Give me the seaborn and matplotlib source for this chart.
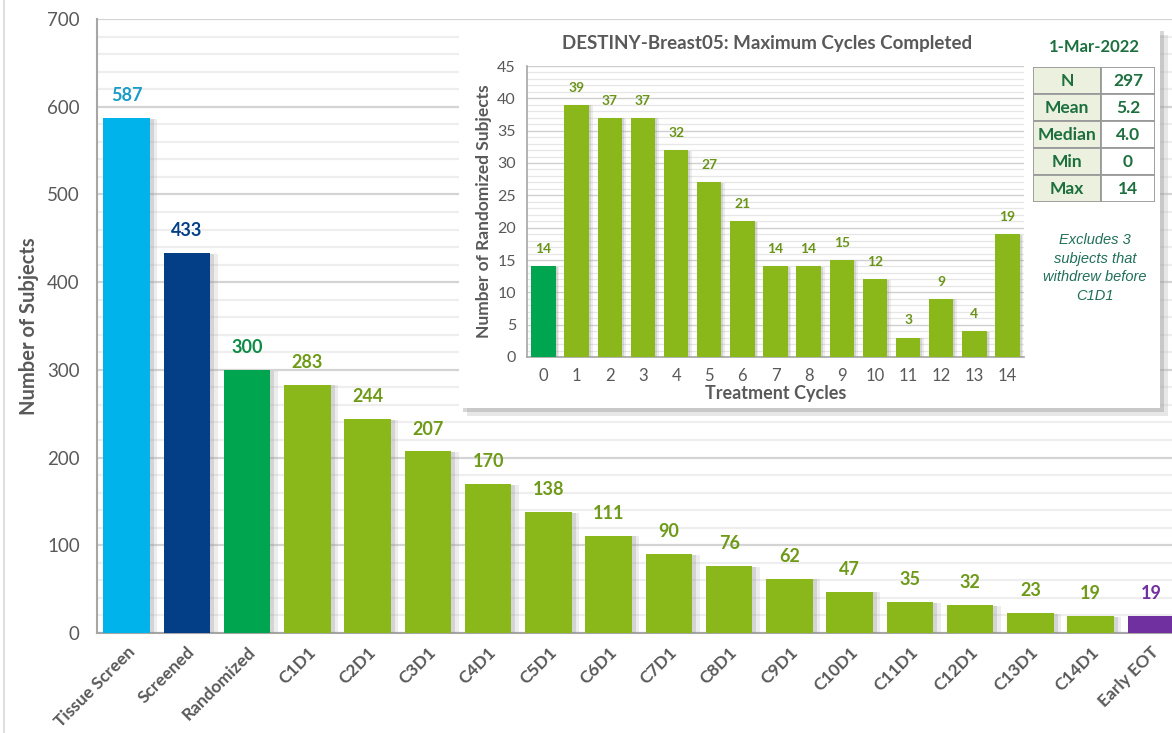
import numpy as np
import matplotlib
matplotlib.use("Agg")
import matplotlib.pyplot as plt
import matplotlib.patheffects as pe
from matplotlib.patches import Rectangle
from matplotlib.lines import Line2D
from matplotlib.ticker import MultipleLocator
import seaborn as sns
import pandas as pd

# ---- enrollment funnel ----
stages = ["Tissue Screen", "Screened", "Randomized",
          "C1D1", "C2D1", "C3D1", "C4D1", "C5D1", "C6D1", "C7D1",
          "C8D1", "C9D1", "C10D1", "C11D1", "C12D1", "C13D1", "C14D1",
          "Early EOT"]
subjects = [587, 433, 300, 283, 244, 207, 170, 138, 111, 90,
            76, 62, 47, 35, 32, 23, 19, 19]

# ---- maximum cycles completed ----
cycles = list(range(15))
cycle_subjects = [14, 39, 37, 37, 32, 27, 21, 14, 14, 15, 12, 3, 9, 4, 19]

# ---- summary statistics ----
data_cut = "1-Mar-2022"
stat_names = ["N", "Mean", "Median", "Min", "Max"]
stat_values = ["297", "5.2", "4.0", "0", "14"]
footnote = "Excludes 3\nsubjects that\nwithdrew before\nC1D1"

CYAN, NAVY, GREEN, LIME, PURPLE = "#00b3ea", "#033f87", "#00a550", "#8ab81a", "#7030a0"
GRAY_TXT = "#595959"
AX_GRAY = "#a6a6a6"

bar_colors = [CYAN, NAVY, GREEN] + [LIME] * 14 + [PURPLE]
label_colors = ["#1a9bc8", NAVY, "#0d8a45"] + ["#6e9a18"] * 14 + [PURPLE]

sns.set_style("white")
plt.rcParams["font.family"] = ["Lato", "DejaVu Sans"]

W, H = 1172, 733
fig = plt.figure(figsize=(W / 100, H / 100), dpi=100)
fig.patch.set_facecolor("white")


def fx(px):
    return px / W


def fy(py):
    return 1 - py / H


def soft_shadow(step):
    # layered offsets give a fading shadow on the right-hand side of a bar
    return [pe.SimplePatchShadow(offset=(step * 2.2, -0.5), shadow_rgbFace="#a0a0a0", alpha=0.18),
            pe.SimplePatchShadow(offset=(step * 1.2, -0.5), shadow_rgbFace="#8c8c8c", alpha=0.25),
            pe.Normal()]


# ================= main funnel chart =================
ax = fig.add_axes([fx(96.5), fy(633), fx(1181 - 96.5), (633 - 19) / H])
df = pd.DataFrame({"stage": stages, "n": subjects})
sns.barplot(data=df, x="stage", y="n", hue="stage", order=stages,
            palette=dict(zip(stages, bar_colors)), legend=False,
            width=0.77, saturation=1, ax=ax, zorder=3)

for p in ax.patches:
    p.set_path_effects(soft_shadow(2.5))
    p.set_edgecolor("none")

ax.set_xlim(-0.5, len(stages) - 0.5)
ax.set_ylim(0, 700)
ax.yaxis.set_major_locator(MultipleLocator(100))
ax.yaxis.set_minor_locator(MultipleLocator(20))
ax.grid(which="major", axis="y", color="#d4d4d4", lw=1.6, zorder=0)
ax.grid(which="minor", axis="y", color="#eeeeee", lw=1.6, zorder=0)
ax.set_axisbelow(True)
for s in ["top", "right"]:
    ax.spines[s].set_visible(False)
for s in ["left", "bottom"]:
    ax.spines[s].set_color(AX_GRAY)
    ax.spines[s].set_linewidth(1.5)

ax.set_xticks(range(len(stages)))
ax.set_xticklabels(stages, rotation=45, ha="right", rotation_mode="anchor",
                   fontsize=12.5, fontweight="bold", color=GRAY_TXT)
ax.set_xticks(np.arange(-0.5, len(stages), 1), minor=True)
ax.tick_params(axis="x", which="major", length=0, pad=8)
ax.tick_params(axis="x", which="minor", length=6, width=1.3, color=AX_GRAY, direction="out")
ax.tick_params(axis="y", which="both", length=7, width=1.3, color=AX_GRAY, direction="out",
               labelsize=13.5, labelcolor=GRAY_TXT, pad=4)
ax.tick_params(axis="y", which="major", length=8)
ax.set_xlabel("")
ax.set_ylabel("Number of Subjects", fontsize=14.5, fontweight="bold", color=GRAY_TXT, labelpad=6)

for i, (v, c) in enumerate(zip(subjects, label_colors)):
    ax.annotate(str(v), (i, v), xytext=(0, 10), textcoords="offset points",
                ha="center", va="bottom", fontsize=13, fontweight="bold", color=c, zorder=5)

# thin frame line at the left edge of the chart area
fig.add_artist(Line2D([fx(4), fx(4)], [0, 1], color="#d9d9d9", lw=1.2))

# ================= inset panel =================
panel = fig.add_axes([fx(459), fy(408), fx(1160 - 459), (408 - 27) / H])
panel.set_xticks([])
panel.set_yticks([])
for s in panel.spines.values():
    s.set_visible(False)
panel.patch.set_facecolor("white")
panel.patch.set_path_effects([
    pe.SimplePatchShadow(offset=(6, -6), shadow_rgbFace="#bdbdbd", alpha=0.35),
    pe.SimplePatchShadow(offset=(3, -3), shadow_rgbFace="#8f8f8f", alpha=0.35),
    pe.Normal()])

fig.text(fx(767), fy(43), "DESTINY-Breast05: Maximum Cycles Completed", ha="center", va="center",
         fontsize=13.5, fontweight="bold", color=GRAY_TXT)

axi = fig.add_axes([fx(527), fy(357), fx(1024 - 527), (357 - 66) / H])
cdf = pd.DataFrame({"cycle": [str(c) for c in cycles], "n": cycle_subjects})
cyc_colors = [GREEN] + [LIME] * (len(cycles) - 1)
sns.barplot(data=cdf, x="cycle", y="n", hue="cycle", order=cdf["cycle"],
            palette=dict(zip(cdf["cycle"], cyc_colors)), legend=False,
            width=0.74, saturation=1, ax=axi, zorder=3)
for p in axi.patches:
    p.set_edgecolor("none")
    p.set_path_effects(soft_shadow(1.2))

axi.set_xlim(-0.5, len(cycles) - 0.5)
axi.set_ylim(0, 45)
axi.yaxis.set_major_locator(MultipleLocator(5))
axi.yaxis.set_minor_locator(MultipleLocator(1))
axi.grid(which="major", axis="y", color="#cfcfcf", lw=1.0, zorder=0)
axi.grid(which="minor", axis="y", color="#e6e6e6", lw=0.9, zorder=0)
axi.set_axisbelow(True)
for s in ["top", "right"]:
    axi.spines[s].set_visible(False)
for s in ["left", "bottom"]:
    axi.spines[s].set_color(AX_GRAY)
    axi.spines[s].set_linewidth(1.2)
axi.set_xticks(np.arange(-0.5, len(cycles), 1), minor=True)
axi.tick_params(axis="x", which="major", length=0, labelsize=12, labelcolor=GRAY_TXT, pad=8)
axi.tick_params(axis="x", which="minor", length=5, width=1, color=AX_GRAY)
axi.tick_params(axis="y", which="major", length=5, width=1, color=AX_GRAY, labelsize=11.5,
                labelcolor=GRAY_TXT, pad=3)
axi.tick_params(axis="y", which="minor", length=3, width=0.8, color=AX_GRAY)
axi.set_xlabel("Treatment Cycles", fontsize=13, fontweight="bold", color=GRAY_TXT, labelpad=1)
axi.set_ylabel("Number of Randomized Subjects", fontsize=12.5, fontweight="bold",
               color=GRAY_TXT, labelpad=4)
for i, v in enumerate(cycle_subjects):
    axi.annotate(str(v), (i, v), xytext=(0, 8), textcoords="offset points", ha="center",
                 va="bottom", fontsize=10, fontweight="bold", color="#6a9418", zorder=5)

# ---- summary table ----
TBL_GREEN = "#1d6f3e"
fig.text(fx(1094), fy(47), data_cut, ha="center", va="center", fontsize=12,
         fontweight="bold", color=TBL_GREEN)
axt = fig.add_axes([fx(1033), fy(202), fx(1155 - 1033), (202 - 67) / H])
axt.set_xlim(0, 1155 - 1033)
axt.set_ylim(len(stat_names), 0)
axt.axis("off")
split = 1101 - 1033
for r, (name, val) in enumerate(zip(stat_names, stat_values)):
    axt.add_patch(Rectangle((0, r), split, 1, facecolor="#ebf1de", edgecolor="#9a9a9a", lw=1.3))
    axt.add_patch(Rectangle((split, r), 1155 - 1033 - split, 1, facecolor="white",
                            edgecolor="#9a9a9a", lw=1.3))
    axt.text(split / 2, r + 0.52, name, ha="center", va="center", fontsize=12.5,
             fontweight="bold", color=TBL_GREEN)
    axt.text(split + (1155 - 1033 - split) / 2, r + 0.52, val, ha="center", va="center",
             fontsize=12.5, fontweight="bold", color=TBL_GREEN)

fig.text(fx(1095), fy(268), footnote, ha="center", va="center", fontsize=10.5,
         style="italic", color="#1f6f58", linespacing=1.45, family=["Liberation Sans", "DejaVu Sans"])

fig.savefig("out.png", dpi=100, facecolor="white")
